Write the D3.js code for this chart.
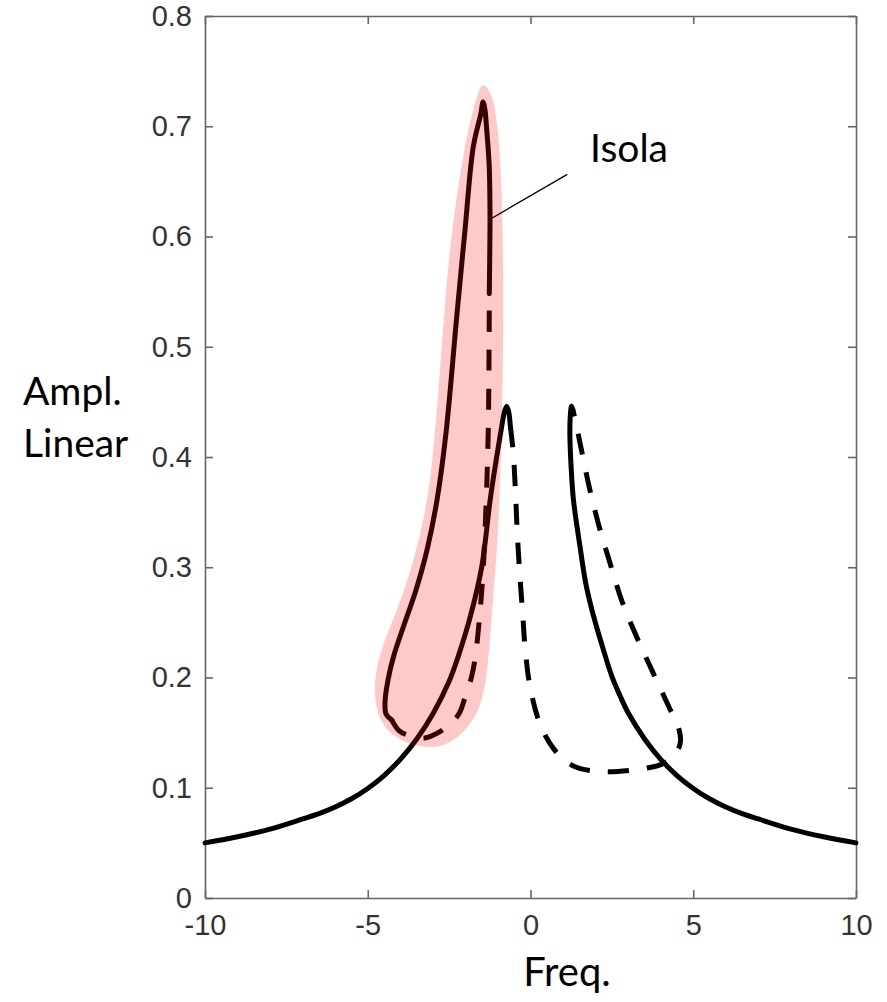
<!DOCTYPE html>
<html><head><meta charset="utf-8">
<script src="https://cdn.jsdelivr.net/npm/d3@7"></script>
<style>body{margin:0;background:#fff}svg{display:block}</style>
</head><body>
<svg id="chart" width="887" height="1002"></svg>
<script>
// ---- data ----
const xTicks = [-10, -5, 0, 5, 10];
const yTicks = [0, 0.1, 0.2, 0.3, 0.4, 0.5, 0.6, 0.7, 0.8];

// main response curve: [freq, amplitude]
const mainLeftStable = [[-10,0.050],[-9,0.0555],[-8,0.0625],[-7,0.0717],[-6.5,0.0765],[-6,0.0825],[-5.5,0.090],[-5,0.0994],[-4.5,0.1111],[-4,0.1257],[-3.5,0.144],[-3.0,0.1669],[-2.5,0.1965],[-2.2,0.221],[-1.86,0.254],[-1.5,0.30],[-1.24,0.361],[-1.05,0.398],[-0.9,0.425],[-0.8,0.441],[-0.73,0.446],[-0.67,0.441],[-0.62,0.428]];
const mainUnstable = [[-0.62,0.428],[-0.53,0.404],[-0.46,0.367],[-0.406,0.331],[-0.323,0.291],[-0.24,0.258],[-0.169,0.228],[-0.015,0.192],[0.29,0.158],[0.72,0.135],[1.30,0.12],[2.23,0.1146],[3.36,0.117],[4.0,0.121],[4.34,0.127],[4.54,0.135],[4.61,0.143],[4.56,0.153],[4.29,0.171],[3.77,0.204],[3.26,0.237],[2.80,0.27],[2.44,0.304],[2.08,0.34],[1.78,0.376],[1.52,0.413],[1.38,0.433],[1.30,0.443]];
const mainRightStable = [[1.30,0.443],[1.26,0.446],[1.22,0.436],[1.21,0.42],[1.25,0.39],[1.32,0.361],[1.52,0.319],[1.70,0.285],[1.88,0.262],[2.0,0.249],[2.2,0.229],[2.5,0.201],[2.75,0.1835],[3.0,0.168],[3.5,0.1445],[4,0.1257],[4.5,0.1111],[5,0.0994],[5.5,0.090],[6,0.0825],[6.5,0.0765],[7,0.0717],[8,0.0625],[9,0.0555],[10,0.050]];

// isola
const isolaStable = [[-1.266,0.548],[-1.25,0.59],[-1.244,0.621],[-1.27,0.665],[-1.346,0.697],[-1.40,0.715],[-1.459,0.722],[-1.52,0.712],[-1.757,0.6815],[-2.012,0.606],[-2.267,0.527],[-2.596,0.4218],[-2.872,0.361],[-3.180,0.3156],[-3.518,0.2794],[-3.886,0.2476],[-4.194,0.2204],[-4.378,0.1977],[-4.47,0.1769],[-4.439,0.1669],[-4.264,0.1615]];
const isolaUnstable = [[-4.264,0.1615],[-4.05,0.152],[-3.80,0.148],[-3.29,0.145],[-2.9,0.149],[-2.63,0.154],[-2.22,0.166],[-2.01,0.182],[-1.81,0.2007],[-1.69,0.22],[-1.55,0.26],[-1.45,0.30],[-1.36,0.361],[-1.30,0.421],[-1.27,0.512],[-1.266,0.548]];

// highlight region around the isola
const isolaHighlight = [[-1.459,0.7374],[-1.214,0.7283],[-1.029,0.7011],[-0.906,0.6512],[-0.845,0.5787],[-0.845,0.4971],[-0.906,0.4063],[-0.998,0.3338],[-1.152,0.2703],[-1.275,0.2249],[-1.398,0.1932],[-1.644,0.1687],[-2.104,0.1497],[-2.780,0.1379],[-3.548,0.1388],[-4.163,0.1469],[-4.593,0.1615],[-4.777,0.1841],[-4.716,0.2086],[-4.470,0.2340],[-4.132,0.2594],[-3.641,0.3020],[-3.180,0.3610],[-2.903,0.4336],[-2.688,0.5152],[-2.473,0.5878],[-2.135,0.6603],[-1.797,0.7102]];

const isolaPointer = [[-1.19,0.6165],[1.13,0.6564]];
const isolaLabel = {text: "Isola", f: 1.83, a: 0.668};
const xLabel = "Freq.";
const yLabelLines = ["Ampl.", "Linear"];

// ---- chart ----
const svg = d3.select("#chart");
const x = d3.scaleLinear().domain([-10, 10]).range([205, 856]);
const y = d3.scaleLinear().domain([0, 0.8]).range([898, 16]);

const axisColor = "#666";
const tickFont = "'Liberation Sans', Arial, Helvetica, sans-serif";
const labelFont = "Lato, 'Open Sans', sans-serif";

function styleAxis(g) {
  g.select(".domain").attr("stroke", axisColor).attr("stroke-width", 1.6);
  g.selectAll(".tick line").attr("stroke", axisColor).attr("stroke-width", 1.6);
  g.selectAll(".tick text").attr("fill", "#333").style("font-family", tickFont).style("font-size", "29px");
}

svg.append("g").attr("transform", "translate(0,898)")
  .call(d3.axisBottom(x).tickValues(xTicks).tickFormat(d => String(d)).tickSizeInner(-8).tickSizeOuter(0).tickPadding(16))
  .call(styleAxis);
svg.append("g").attr("transform", "translate(205,0)")
  .call(d3.axisLeft(y).tickValues(yTicks).tickFormat(d => d === 0 ? "0" : d3.format(".1f")(d)).tickSizeInner(-8).tickSizeOuter(0).tickPadding(13))
  .call(styleAxis);
svg.append("g").attr("transform", "translate(0,16)")
  .call(d3.axisTop(x).tickValues(xTicks).tickFormat("").tickSizeInner(-8).tickSizeOuter(0))
  .call(styleAxis);
svg.append("g").attr("transform", "translate(856,0)")
  .call(d3.axisRight(y).tickValues(yTicks).tickFormat("").tickSizeInner(-8).tickSizeOuter(0))
  .call(styleAxis);

const line = d3.line().x(d => x(d[0])).y(d => y(d[1])).curve(d3.curveCatmullRom.alpha(0.5));

function drawCurve(data, dashed) {
  svg.append("path").datum(data)
    .attr("d", line)
    .attr("fill", "none")
    .attr("stroke", "#000")
    .attr("stroke-width", 5)
    .attr("stroke-linejoin", "round")
    .attr("stroke-linecap", dashed ? "butt" : "round")
    .attr("stroke-dasharray", dashed ? "21,18" : null);
}
drawCurve(mainLeftStable, false);
drawCurve(mainUnstable, true);
drawCurve(mainRightStable, false);
drawCurve(isolaStable, false);
drawCurve(isolaUnstable, true);

// highlight overlay
const closed = d3.line().x(d => x(d[0])).y(d => y(d[1])).curve(d3.curveCatmullRomClosed.alpha(0.5));
svg.append("path").datum(isolaHighlight)
  .attr("d", closed)
  .attr("fill", "rgb(255,10,10)")
  .attr("fill-opacity", 0.22)
  .attr("stroke", "none");

// annotation
svg.append("line")
  .attr("x1", x(isolaPointer[0][0])).attr("y1", y(isolaPointer[0][1]))
  .attr("x2", x(isolaPointer[1][0])).attr("y2", y(isolaPointer[1][1]))
  .attr("stroke", "#000").attr("stroke-width", 1.3);
svg.append("text")
  .attr("x", x(isolaLabel.f)).attr("y", y(isolaLabel.a))
  .style("font-family", labelFont).style("font-size", "39px").attr("fill", "#000")
  .text(isolaLabel.text);

// axis labels
svg.append("text")
  .attr("x", 567).attr("y", 986).attr("text-anchor", "middle")
  .style("font-family", labelFont).style("font-size", "40px").attr("fill", "#000")
  .text(xLabel);
svg.selectAll("text.ylab").data(yLabelLines).enter().append("text")
  .attr("class", "ylab")
  .attr("x", 23).attr("y", (d, i) => 405 + i * 52)
  .style("font-family", labelFont).style("font-size", "39px").attr("fill", "#000")
  .text(d => d);
</script>
</body></html>
